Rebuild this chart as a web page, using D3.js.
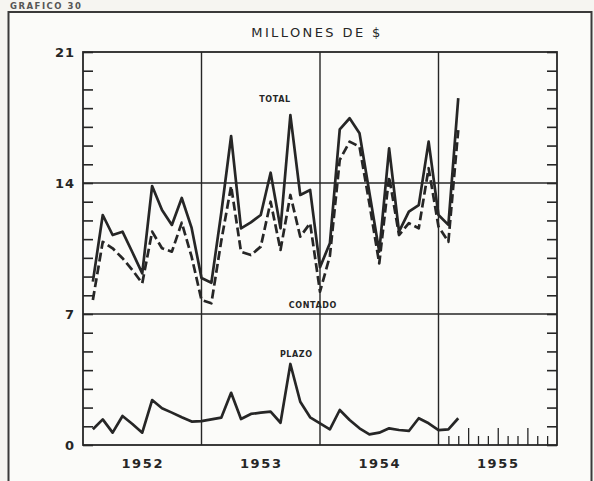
<!DOCTYPE html>
<html>
<head>
<meta charset="utf-8">
<script src="https://cdn.jsdelivr.net/npm/d3@7"></script>
<style>
  html, body { margin: 0; padding: 0; background: #f6f5f1; }
  svg { display: block; }
</style>
</head>
<body>
<svg id="chart" width="594" height="481"></svg>
<script>
// ---- DATA (monthly, Jan 1952 – Feb 1955, millones de $) ----
const months = [
  "1952-01","1952-02","1952-03","1952-04","1952-05","1952-06","1952-07","1952-08","1952-09","1952-10","1952-11","1952-12",
  "1953-01","1953-02","1953-03","1953-04","1953-05","1953-06","1953-07","1953-08","1953-09","1953-10","1953-11","1953-12",
  "1954-01","1954-02","1954-03","1954-04","1954-05","1954-06","1954-07","1954-08","1954-09","1954-10","1954-11","1954-12",
  "1955-01","1955-02"
];
const total = [
  8.73, 12.29, 11.22, 11.40, 10.30, 9.17, 13.84, 12.56, 11.76, 13.20, 11.60, 8.92,
  8.67, 12.40, 16.51, 11.58, 11.90, 12.29, 14.55, 11.58, 17.63, 13.36, 13.63, 9.50,
  10.78, 16.87, 17.46, 16.66, 13.50, 10.33, 15.85, 11.40, 12.47, 12.82, 16.21, 12.29,
  11.76, 18.53
];
const contado = [
  7.75, 10.86, 10.51, 9.98, 9.35, 8.64, 11.40, 10.51, 10.33, 11.88, 10.06, 7.75,
  7.57, 10.90, 13.84, 10.33, 10.15, 10.60, 13.00, 10.42, 13.36, 11.13, 11.85, 8.19,
  10.10, 15.23, 16.21, 15.94, 12.90, 9.70, 14.34, 11.22, 11.85, 11.58, 14.79, 11.67,
  10.86, 16.83
];
const plazo = [
  0.84, 1.37, 0.66, 1.55, 1.12, 0.66, 2.40, 1.96, 1.73, 1.48, 1.25, 1.28,
  1.37, 1.46, 2.79, 1.39, 1.66, 1.73, 1.78, 1.19, 4.33, 2.31, 1.48, 1.16,
  0.84, 1.87, 1.34, 0.89, 0.57, 0.66, 0.89, 0.80, 0.75, 1.43, 1.16, 0.80,
  0.84, 1.43
];
const yTickLabels = [0, 7, 14, 21];
const yearLabels = ["1952", "1953", "1954", "1955"];
const titleText = "MILLONES DE $";
const seriesLabels = ["TOTAL", "CONTADO", "PLAZO"];
const headerText = "GRAFICO  30";

// ---- LAYOUT ----
const ink = "#262626";
const svg = d3.select("#chart");
const L = 83, R = 557, T = 52, B = 445;

const x = d3.scaleLinear().domain([1952, 1956]).range([L, R]);
const y = d3.scaleLinear().domain([0, 21]).range([B, T]);

// month-end position for each monthly observation
const tx = s => { const [yr, m] = s.split("-").map(Number); return yr + m / 12; };

// outer frame
svg.append("rect").attr("x", 8.5).attr("y", 12).attr("width", 583).attr("height", 480)
  .attr("fill", "#fbfbf9").attr("stroke", "#3a3a3a").attr("stroke-width", 2);

// header at top-left
svg.append("text").attr("x", 10).attr("y", 9).text(headerText)
  .attr("font-family", "DejaVu Sans").attr("font-size", 8.5).attr("font-weight", "bold")
  .attr("letter-spacing", 1.5).attr("fill", "#555");

// title
svg.append("text").attr("x", 317).attr("y", 37).attr("text-anchor", "middle")
  .text(titleText)
  .attr("font-family", "DejaVu Sans").attr("font-size", 13).attr("letter-spacing", 2.4)
  .attr("fill", ink);

// gridlines
const grid = svg.append("g").attr("stroke", ink).attr("stroke-width", 1.4).attr("fill", "none");
[7, 14].forEach(v => grid.append("line").attr("x1", L).attr("x2", R).attr("y1", y(v)).attr("y2", y(v)));
[1953, 1954, 1955].forEach(v => grid.append("line").attr("x1", x(v)).attr("x2", x(v)).attr("y1", T).attr("y2", B));

// plot frame
svg.append("rect").attr("x", L).attr("y", T).attr("width", R - L).attr("height", B - T)
  .attr("fill", "none").attr("stroke", ink).attr("stroke-width", 1.8);

const minor = d3.range(0, 22);

// left inward minor ticks
const gLT = svg.append("g").attr("transform", `translate(${L},0)`)
  .call(d3.axisRight(y).tickValues(minor).tickSize(10).tickFormat(""));
// right inward minor ticks
const gRT = svg.append("g").attr("transform", `translate(${R},0)`)
  .call(d3.axisLeft(y).tickValues(minor).tickSize(10).tickFormat(""));
[gLT, gRT].forEach(g => {
  g.select(".domain").remove();
  g.selectAll("line").attr("stroke", ink).attr("stroke-width", 1.6);
});

// left labels
const gL = svg.append("g").attr("transform", `translate(${L},0)`)
  .call(d3.axisLeft(y).tickValues(yTickLabels).tickSize(0).tickPadding(8).tickFormat(d3.format("d")));
gL.select(".domain").remove();
gL.selectAll("text").attr("font-family", "DejaVu Sans").attr("font-size", 13)
  .attr("font-weight", "bold").attr("letter-spacing", 1).attr("fill", ink);

// bottom month ticks in 1955
const monthTicks = d3.range(1, 12).map(m => 1955 + m / 12);
const gM = svg.append("g").attr("transform", `translate(0,${B})`)
  .call(d3.axisTop(x).tickValues(monthTicks).tickSize(9).tickFormat(""));
gM.select(".domain").remove();
gM.selectAll("line").attr("stroke", ink).attr("stroke-width", 1.3)
  .attr("y2", (d, i) => ((i + 1) % 3 === 0 ? -17 : -9));

// year labels
const gY = svg.append("g").attr("transform", `translate(0,${B})`)
  .call(d3.axisBottom(x).tickValues(yearLabels.map(v => +v + 0.5)).tickSize(0).tickPadding(14)
    .tickFormat((d, i) => yearLabels[i]));
gY.select(".domain").remove();
gY.selectAll("text").attr("font-family", "DejaVu Sans").attr("font-size", 13)
  .attr("font-weight", "bold").attr("letter-spacing", 1.6).attr("fill", ink);

// series lines
const line = d3.line().x(d => x(tx(d.t))).y(d => y(d.v));
const mk = arr => months.map((t, i) => ({ t, v: arr[i] }));

svg.append("path").datum(mk(contado)).attr("d", line)
  .attr("fill", "none").attr("stroke", ink).attr("stroke-width", 2.7)
  .attr("stroke-dasharray", "9,4").attr("stroke-linejoin", "round");
svg.append("path").datum(mk(total)).attr("d", line)
  .attr("fill", "none").attr("stroke", ink).attr("stroke-width", 2.7).attr("stroke-linejoin", "round");
svg.append("path").datum(mk(plazo)).attr("d", line)
  .attr("fill", "none").attr("stroke", ink).attr("stroke-width", 2.7).attr("stroke-linejoin", "round");

// series annotations
const ann = [
  { text: seriesLabels[0], x: x(1953.62), y: y(18.33) },
  { text: seriesLabels[1], x: x(1953.94), y: y(7.3) },
  { text: seriesLabels[2], x: x(1953.8), y: y(4.7) }
];
svg.selectAll("text.ann").data(ann).enter().append("text").attr("class", "ann")
  .attr("x", d => d.x).attr("y", d => d.y).attr("text-anchor", "middle").text(d => d.text)
  .attr("font-family", "DejaVu Sans").attr("font-size", 8).attr("font-weight", "bold")
  .attr("letter-spacing", 0.6).attr("fill", ink);
</script>
</body>
</html>
